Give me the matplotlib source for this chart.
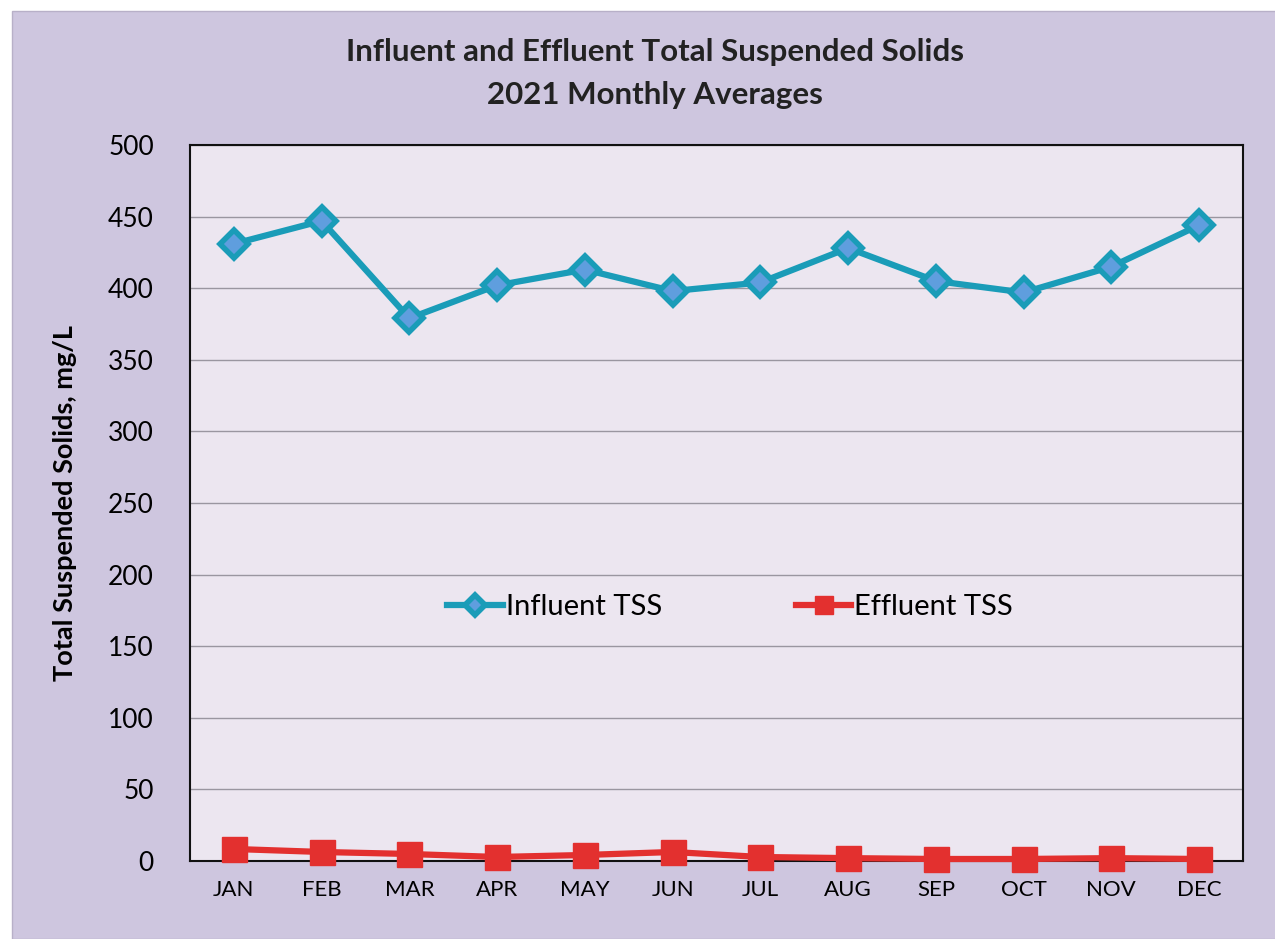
import matplotlib.pyplot as plt
import numpy as np
from matplotlib.patches import Rectangle

plt.rcParams['font.family'] = ['Lato', 'DejaVu Sans']

# Monthly averages
months = ["JAN", "FEB", "MAR", "APR", "MAY", "JUN",
          "JUL", "AUG", "SEP", "OCT", "NOV", "DEC"]
influent = [431, 447, 379, 402, 413, 398, 404, 428, 405, 397, 415, 444]
effluent = [8.4, 6.3, 4.9, 2.8, 4.2, 6.3, 2.8, 2.0, 1.4, 1.4, 2.0, 1.4]

fig = plt.figure(figsize=(12.75, 9.39), dpi=100)
fig.patch.set_facecolor("white")
# scanned-page lavender background
fig.add_artist(Rectangle((12 / 1275, 0), 1, 1 - 11 / 939, transform=fig.transFigure,
                         facecolor="#cec6df", edgecolor="#b8b0c8", lw=1, zorder=0))

ax = fig.add_axes([190 / 1275, 78 / 939, 1053 / 1275, 716 / 939])
ax.set_facecolor("#ece6f0")

x = np.arange(len(months))
ax.plot(x, influent, color="#1a9cb8", lw=4.5, marker="D", ms=14,
        mfc="#5f9ede", mec="#1a9cb8", mew=4, label="Influent TSS", zorder=3)
ax.plot(x, effluent, color="#e3302f", lw=4.5, marker="s", ms=18,
        mfc="#e3302f", mec="#e3302f", mew=1, label="Effluent TSS", zorder=3,
        clip_on=False)

ax.set_xlim(-0.5, len(months) - 0.5)
ax.set_ylim(0, 500)
ax.set_yticks(np.arange(0, 501, 50))
ax.set_xticks(x)
ax.set_xticklabels(months)
ax.yaxis.grid(True, color="#9a96a0", lw=1)
ax.set_axisbelow(True)
ax.tick_params(axis="y", length=0, labelsize=19, pad=26)
ax.tick_params(axis="x", length=0, labelsize=16, pad=14)
for s in ax.spines.values():
    s.set_linewidth(1.5)
    s.set_color("#111111")

ax.set_ylabel("Total Suspended Solids, mg/L", fontsize=19.5, fontweight="bold",
              labelpad=22)

fig.text(655 / 1275, 1 - 52 / 939, "Influent and Effluent Total Suspended Solids",
         ha="center", va="center", fontsize=22.5, fontweight="bold", color="#222222")
fig.text(655 / 1275, 1 - 95 / 939, "2021 Monthly Averages",
         ha="center", va="center", fontsize=22.5, fontweight="bold", color="#222222")

ax.legend(loc="center", bbox_to_anchor=(0.513, 0.355), ncol=2, frameon=False,
          fontsize=21, columnspacing=4.6, handlelength=1.9, handletextpad=0.1,
          markerscale=0.75)

fig.savefig("out.png", dpi=100)
